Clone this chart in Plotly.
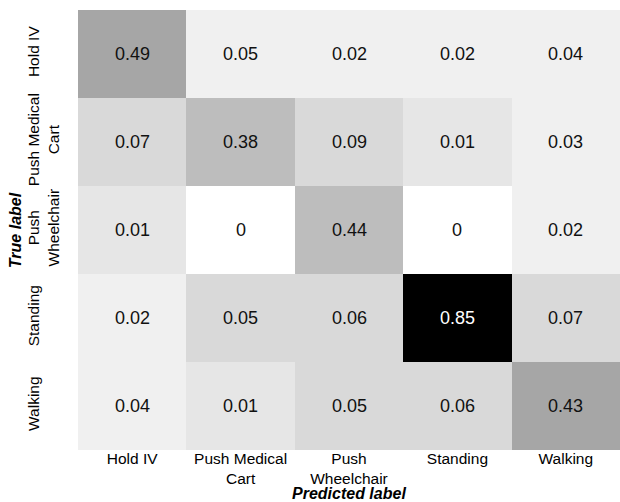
import plotly.graph_objects as go

# ---- data ----
pred_labels = ["Hold IV", "Push Medical<br>Cart", "Push<br>Wheelchair", "Standing", "Walking"]
true_labels = ["Hold IV<br> ", "Push Medical<br>Cart", "Push<br>Wheelchair", "Standing<br> ", "Walking<br> "]

values = [
    [0.49, 0.05, 0.02, 0.02, 0.04],
    [0.07, 0.38, 0.09, 0.01, 0.03],
    [0.01, 0.00, 0.44, 0.00, 0.02],
    [0.02, 0.05, 0.06, 0.85, 0.07],
    [0.04, 0.01, 0.05, 0.06, 0.43],
]

# darkness of each cell (0 = white, 1 = black)
shade_level = [
    [0.35, 0.06, 0.06, 0.06, 0.06],
    [0.15, 0.26, 0.15, 0.10, 0.06],
    [0.10, 0.00, 0.26, 0.00, 0.06],
    [0.06, 0.15, 0.15, 1.00, 0.15],
    [0.06, 0.10, 0.15, 0.15, 0.35],
]

FONT = "Liberation Sans, Arial, sans-serif"

fig = go.Figure(
    go.Heatmap(
        z=shade_level,
        x=pred_labels,
        y=true_labels,
        colorscale=[[0, "rgb(255,255,255)"], [1, "rgb(0,0,0)"]],
        zmin=0,
        zmax=1,
        showscale=False,
        hoverinfo="skip",
        xgap=0,
        ygap=0,
    )
)

annotations = []
for i, row in enumerate(values):
    for j, v in enumerate(row):
        txt = "0" if v == 0 else f"{v:.2f}"
        annotations.append(dict(
            x=pred_labels[j], y=true_labels[i], xref="x", yref="y",
            text=txt, showarrow=False,
            font=dict(family=FONT, size=18,
                      color="white" if shade_level[i][j] > 0.5 else "#111111"),
        ))

annotations.append(dict(
    x=0.5, y=-0.098, xref="paper", yref="paper", text="<b><i>Predicted label</i></b>",
    showarrow=False, font=dict(family=FONT, size=16, color="black"),
    xanchor="center", yanchor="middle",
))
annotations.append(dict(
    x=-0.116, y=0.5, xref="paper", yref="paper", text="<b><i>True label</i></b>",
    showarrow=False, textangle=-90, font=dict(family=FONT, size=16, color="black"),
    xanchor="center", yanchor="middle",
))

fig.update_layout(
    width=620,
    height=502,
    margin=dict(l=78, r=0, t=10, b=52, autoexpand=False),
    paper_bgcolor="white",
    plot_bgcolor="white",
    font=dict(family=FONT, size=15.5, color="black"),
    annotations=annotations,
    xaxis=dict(showgrid=False, zeroline=False, ticks="", showline=False,
               automargin=False,
               tickfont=dict(size=15.5, color="black"), ticklabelstandoff=-3),
    yaxis=dict(showgrid=False, zeroline=False, ticks="", showline=False,
               automargin=False, autorange="reversed", tickangle=-90,
               ticklabelstandoff=15,
               tickfont=dict(size=15.5, color="black")),
)

fig.write_html(
    "out.html",
    config={"responsive": False, "displayModeBar": False},
    post_script=(
        "document.documentElement.style.margin='0';"
        "document.documentElement.style.overflow='hidden';"
        "document.body.style.margin='0';"
        "document.body.style.overflow='hidden';"
        "var gd=document.getElementById('{plot_id}');"
        "Plotly.relayout(gd,{width:620,height:502});"
    ),
)
